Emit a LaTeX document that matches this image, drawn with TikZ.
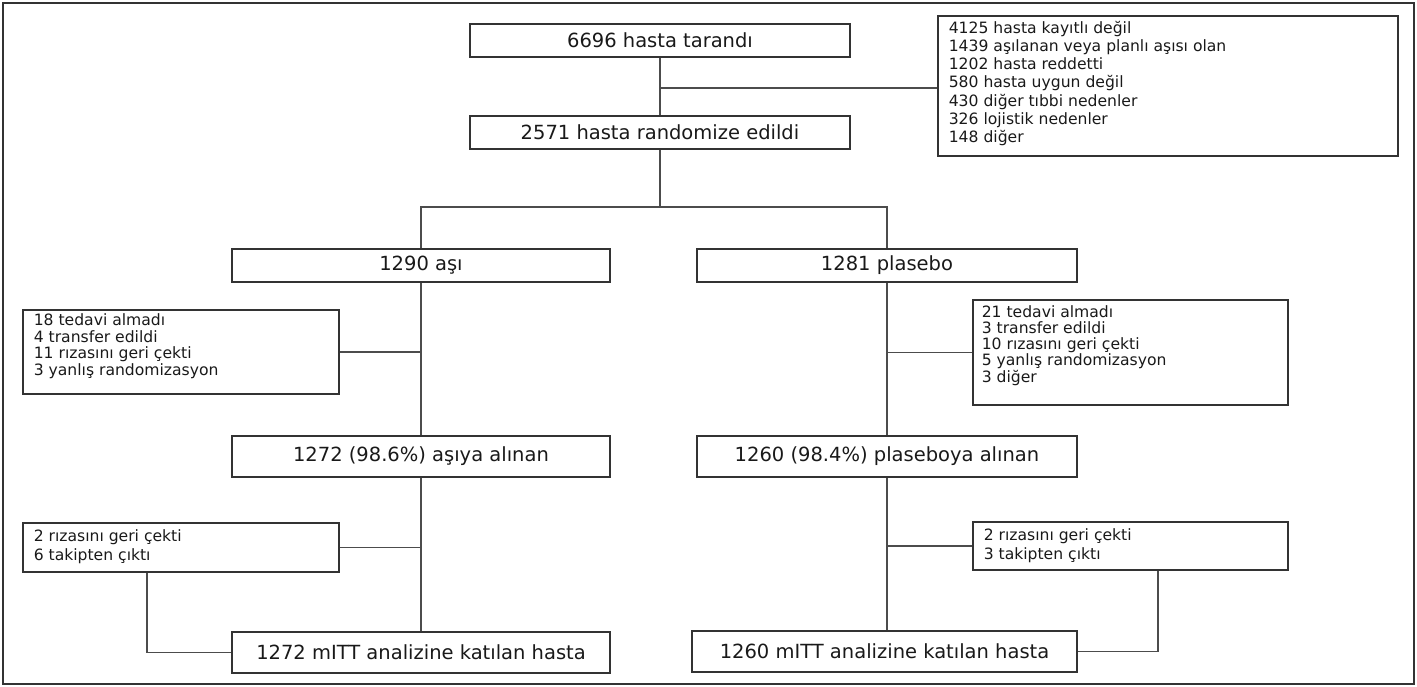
\documentclass[tikz,border=0pt]{standalone}
\usepackage{fontspec}
\setmainfont{DejaVu Sans}
\newcommand{\exlist}[6]{\begin{minipage}[t][#2][t]{#1}\parindent=0pt\fontsize{15.6}{#4}\selectfont\leftskip=#5\relax\rule{0pt}{#3}#6\end{minipage}}
\begin{document}
\begin{tikzpicture}[x=1pt,y=-1pt,
  mainbox/.style={draw=black!80, line width=1.6pt, inner sep=0pt, text=black!90, font=\fontsize{19.5}{23}\selectfont},
  exbox/.style={draw=black!80, line width=1.6pt, inner sep=0pt, anchor=north west, text=black!90},
  conn/.style={draw=black!70, line width=1.4pt}]
\useasboundingbox (0,0) rectangle (1417,687);
\draw[line width=2pt, black!80] (3,3) rectangle (1414,684);

% main boxes
\node[mainbox, minimum width=380pt, minimum height=33pt] (scr) at (660,40.5) {6696 hasta tarandı};
\node[mainbox, minimum width=380pt, minimum height=33pt] (rnd) at (660,132.5) {2571 hasta randomize edildi};
\node[mainbox, minimum width=378pt, minimum height=33pt] (vac) at (421,265.5) {1290 aşı};
\node[mainbox, minimum width=380pt, minimum height=33pt] (pla) at (887,265.5) {1281 plasebo};
\node[mainbox, minimum width=378pt, minimum height=41pt] (vacr) at (421,456.5) {1272 (98.6\%) aşıya alınan};
\node[mainbox, minimum width=380pt, minimum height=41pt] (plar) at (887,456.5) {1260 (98.4\%) plaseboya alınan};
\node[mainbox, minimum width=378pt, minimum height=41pt] (vacm) at (421,652.5) {1272 mITT analizine katılan hasta};
\node[mainbox, minimum width=385pt, minimum height=41pt] (plam) at (884.5,651.5) {1260 mITT analizine katılan hasta};

% exclusion boxes
\node[exbox] (ex0) at (937,15) {\exlist{460pt}{140pt}{17.5pt}{18.2pt}{11pt}{4125 hasta kayıtlı değil\\1439 aşılanan veya planlı aşısı olan\\1202 hasta reddetti\\580 hasta uygun değil\\430 diğer tıbbi nedenler\\326 lojistik nedenler\\148 diğer}};
\node[exbox] (exv1) at (22,309) {\exlist{316pt}{84pt}{15.8pt}{16.6pt}{11pt}{18 tedavi almadı\\4 transfer edildi\\11 rızasını geri çekti\\3 yanlış randomizasyon}};
\node[exbox] (exp1) at (972,299) {\exlist{315pt}{105pt}{17.6pt}{16.2pt}{9pt}{21 tedavi almadı\\3 transfer edildi\\10 rızasını geri çekti\\5 yanlış randomizasyon\\3 diğer}};
\node[exbox] (exv2) at (22,522) {\exlist{316pt}{49pt}{18.6pt}{19pt}{11pt}{2 rızasını geri çekti\\6 takipten çıktı}};
\node[exbox] (exp2) at (972,521) {\exlist{315pt}{48pt}{18.6pt}{19pt}{11pt}{2 rızasını geri çekti\\3 takipten çıktı}};

% connectors
\coordinate (j0) at (660,88);
\coordinate (split) at (660,207);
\draw[conn] (scr.south) -- (rnd.north);
\draw[conn] (j0) -- (j0 -| ex0.west);
\draw[conn] (rnd.south) -- (split);
\draw[conn] (vac.north) |- (split) -| (pla.north);
\draw[conn] (vac.south) -- (vacr.north);
\draw[conn] (pla.south) -- (plar.north);
\draw[conn] (exv1.east) -- (exv1.east -| vac.south);
\draw[conn] (exp1.west) -- (exp1.west -| pla.south);
\draw[conn] (vacr.south) -- (vacm.north);
\draw[conn] (plar.south) -- (plar.south |- plam.north);
\draw[conn] (exv2.east) -- (exv2.east -| vacr.south);
\draw[conn] (exp2.west) -- (exp2.west -| plar.south);
\draw[conn] ([xshift=125pt]exv2.south west) |- (vacm.west);
\draw[conn] ([xshift=186pt]exp2.south west) |- (plam.east);
\end{tikzpicture}
\end{document}
